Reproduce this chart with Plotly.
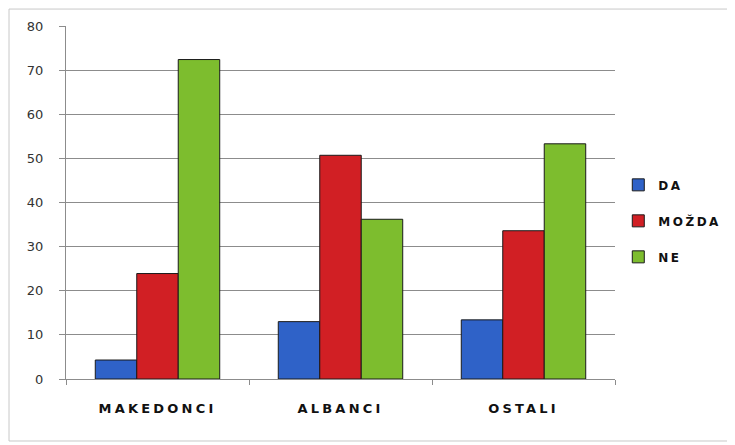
import plotly.graph_objects as go

categories = ["MAKEDONCI", "ALBANCI", "OSTALI"]
series_names = ["DA", "MOŽDA", "NE"]
da_values = [4.3, 13.0, 13.4]
mozda_values = [23.9, 50.7, 33.6]
ne_values = [72.4, 36.2, 53.3]
y_ticks = [0, 10, 20, 30, 40, 50, 60, 70, 80]

colors = ["#2f62c8", "#d11f24", "#7dbd2e"]
edge = "#1a1a1a"

def spaced(t, px=3.2):
    return f'<span style="letter-spacing:{px}px">{t}</span>'

fig = go.Figure()
for name, vals, col in zip(series_names, [da_values, mozda_values, ne_values], colors):
    fig.add_trace(go.Bar(
        x=categories, y=vals, name=spaced(name, 2.5), legendgroup=name,
        marker=dict(color=col, line=dict(color=edge, width=1)),
    ))

W, H = 727, 437
fig.update_layout(
    width=W, height=H,
    margin=dict(l=58, r=120, t=18, b=66, autoexpand=False),
    paper_bgcolor="white", plot_bgcolor="white",
    barmode="group", bargap=0.32, bargroupgap=0,
    font=dict(family="DejaVu Sans", color="#222222"),
    legend=dict(
        x=0.006, xref="container", y=0.448, xanchor="left", yanchor="middle",
        font=dict(family="DejaVu Sans", size=12, color="#111111", weight="bold"),
        tracegroupgap=17, itemwidth=30, bgcolor="rgba(0,0,0,0)",
    ),
    showlegend=True,
)
# legend placed just right of the plot area
fig.update_layout(legend=dict(xref="paper", x=1.006))
fig.update_xaxes(
    showline=True, linecolor="#8c8c8c", linewidth=1,
    ticks="outside", tickson="boundaries", ticklen=5, tickcolor="#8c8c8c",
    tickmode="array", tickvals=categories, ticktext=[spaced(c) for c in categories],
    tickfont=dict(family="DejaVu Sans", size=13, color="#111111", weight="bold"),
    ticklabelstandoff=17,
)
fig.update_yaxes(
    range=[0, 80], tickvals=y_ticks,
    showline=True, linecolor="#8c8c8c", linewidth=1,
    ticks="outside", ticklen=6, tickcolor="#8c8c8c",
    showgrid=True, gridcolor="#8c8c8c", gridwidth=1,
    zeroline=False,
    tickfont=dict(family="DejaVu Sans", size=13, color="#333333"),
    ticklabelstandoff=13,
)
fig.add_shape(type="rect", xref="paper", yref="paper",
              x0=-0.1038, x1=1.2113, y0=-0.1756, y1=1.048,
              line=dict(color="#c8c8c8", width=1))
fig.write_html("out.html")
